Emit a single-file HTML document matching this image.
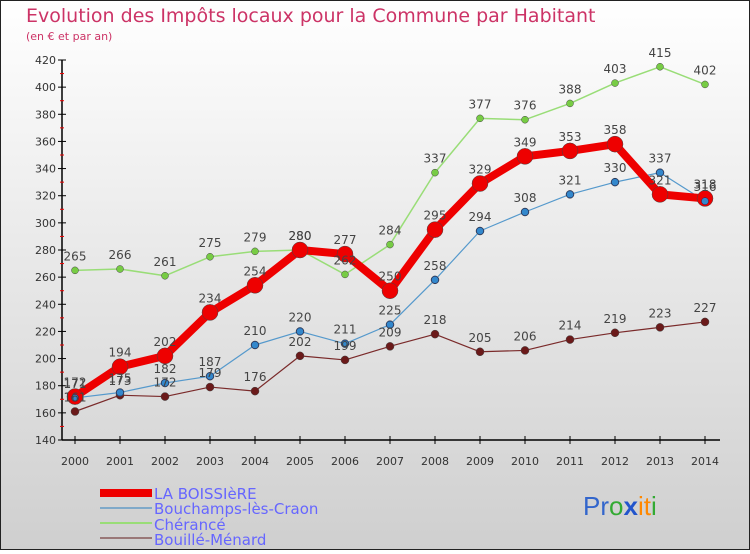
<!DOCTYPE html>
<html><head><meta charset="utf-8"><style>
html,body{margin:0;padding:0}
body{width:750px;height:550px;overflow:hidden;font-family:"DejaVu Sans","Liberation Sans",sans-serif}
</style></head><body>
<svg width="750" height="550" xmlns="http://www.w3.org/2000/svg">
<defs><linearGradient id="bg" x1="0" y1="0" x2="0" y2="1"><stop offset="0" stop-color="#ffffff"/><stop offset="1" stop-color="#cfcfcf"/></linearGradient></defs>
<rect x="0.5" y="0.5" width="749" height="549" fill="url(#bg)" stroke="#222"/>
<text x="26" y="22" font-size="19" fill="#cc3366">Evolution des Impôts locaux pour la Commune par Habitant</text>
<text x="26" y="40" font-size="11" fill="#cc3366">(en € et par an)</text>
<g id="axes"></g>
<g id="series"></g>
<g id="labels"></g>
<g font-size="15" fill="#5555ee">
<rect x="100" y="489" width="52" height="8" fill="#ee0000"/>
<text x="154" y="499" fill="#6666ff">LA BOISSIèRE</text>
<rect x="100" y="507" width="52" height="2" fill="#7fa9c9"/>
<text x="154" y="514" fill="#6666ff">Bouchamps-lès-Craon</text>
<rect x="100" y="522" width="52" height="2" fill="#99dd77"/>
<text x="154" y="530" fill="#6666ff">Chérancé</text>
<rect x="100" y="537" width="52" height="2" fill="#997777"/>
<text x="154" y="545" fill="#6666ff">Bouillé-Ménard</text>
</g>
<g font-size="26" font-family="Liberation Sans, sans-serif">
<text x="583" y="515"><tspan fill="#3366cc">Pr</tspan><tspan fill="#33aa33">o</tspan><tspan fill="#2255cc" font-weight="bold">x</tspan><tspan fill="#ff8800">it</tspan><tspan fill="#33aa33">i</tspan></text>
</g>
</svg>
<script>
const years=[2000,2001,2002,2003,2004,2005,2006,2007,2008,2009,2010,2011,2012,2013,2014];
const yTicks=[140,160,180,200,220,240,260,280,300,320,340,360,380,400,420];
const laBoissiere=[172,194,202,234,254,280,277,250,295,329,349,353,358,321,318];
const bouchamps=[171,175,182,187,210,220,211,225,258,294,308,321,330,337,316];
const cherance=[265,266,261,275,279,280,262,284,337,377,376,388,403,415,402];
const bouille=[161,173,172,179,176,202,199,209,218,205,206,214,219,223,227];
const NS="http://www.w3.org/2000/svg";
const X=i=>75+i*45;
const Y=v=>440-(v-140)*380/280;
function mk(t,a,p){const e=document.createElementNS(NS,t);for(const k in a)e.setAttribute(k,a[k]);p.appendChild(e);return e;}
const ax=document.getElementById('axes');
mk('line',{x1:62,y1:Y(420),x2:62,y2:Y(140),stroke:'#000','stroke-width':1.5},ax);
mk('line',{x1:62,y1:Y(140),x2:720,y2:Y(140),stroke:'#000','stroke-width':1.5},ax);
yTicks.forEach((t,i)=>{
  mk('line',{x1:58,y1:Y(t),x2:66,y2:Y(t),stroke:'#000'},ax);
  const tx=mk('text',{x:56,y:Y(t)+4,'font-size':11,'text-anchor':'end',fill:'#333'},ax);
  
  
  tx.textContent=t;
  if(i<yTicks.length-1) mk('line',{x1:60,y1:Y(t+10),x2:64,y2:Y(t+10),stroke:'#ee0000'},ax);
});
years.forEach((yr,i)=>{
  mk('line',{x1:X(i),y1:Y(140)-4,x2:X(i),y2:Y(140)+4,stroke:'#000'},ax);
  const tx=mk('text',{x:X(i),y:465,'font-size':11,'text-anchor':'middle',fill:'#333'},ax);
  
  
  tx.textContent=yr;
});
const sg=document.getElementById('series'),lg=document.getElementById('labels');
function draw(vals,name,color,w,r,dot){
  const pl=mk('polyline',{points:vals.map((v,i)=>X(i)+','+Y(v)).join(' '),fill:'none',stroke:color,'stroke-width':w,'stroke-linejoin':'round'},sg);
  
  
  vals.forEach((v,i)=>{
    const c=mk('circle',{cx:X(i),cy:Y(v),r:r,fill:dot,stroke:'#444','stroke-width':0.5},sg);
    
    
    const t=mk('text',{x:X(i),y:Y(v)-10,'font-size':12,'text-anchor':'middle',fill:'#444'},lg);
    
    
    t.textContent=v;
  });
}
draw(bouille,'bouille-menard','#7a2a2a',1.2,4,'#6b1a1a');
draw(cherance,'cherance','#99dd77',1.5,3.5,'#77cc44');
draw(bouchamps,'bouchamps','#5599cc',1.2,4,'#3388cc');
draw(laBoissiere,'la-boissiere','#ee0000',8,8,'#ee0000');
// redraw bouchamps points on top like reference
bouchamps.forEach((v,i)=>{const c=mk('circle',{cx:X(i),cy:Y(v),r:3.5,fill:'#3388cc',stroke:'#225',"stroke-width":0.5},sg);

});
</script>
</body></html>
